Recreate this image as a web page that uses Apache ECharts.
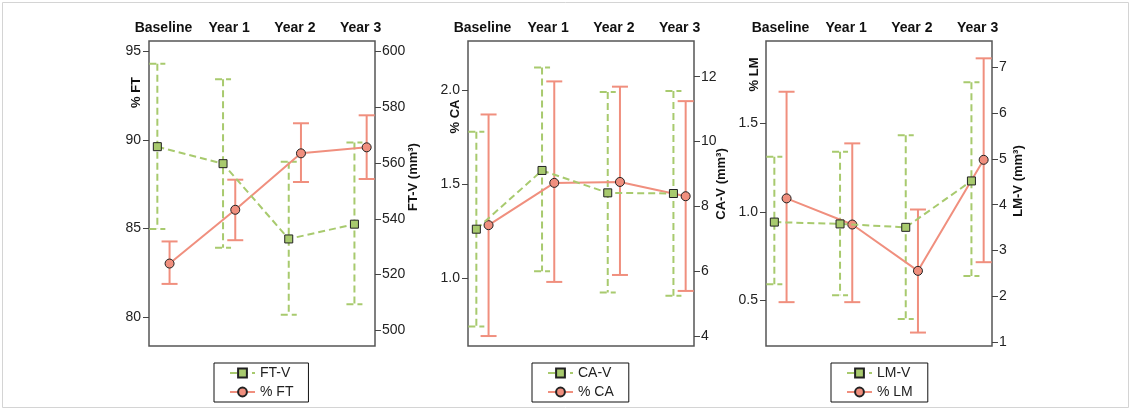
<!DOCTYPE html>
<html>
<head>
<meta charset="utf-8">
<script src="https://cdn.jsdelivr.net/npm/echarts@6/dist/echarts.min.js"></script>
<style>
  html, body { margin: 0; padding: 0; background: #fff; }
  #main { width: 1132px; height: 411px; }
</style>
</head>
<body>
<div id="main"></div>
<script>
var cats = ['Baseline', 'Year 1', 'Year 2', 'Year 3'];

// fat tissue
var ftV = [565.9, 559.8, 532.8, 538.1];
var ftVLow = [536.4, 529.6, 505.6, 509.4];
var ftVHigh = [595.6, 590.1, 560.5, 567.4];
var ftPct = [83.02, 86.06, 89.25, 89.59];
var ftPctLow = [81.87, 84.34, 87.63, 87.8];
var ftPctHigh = [84.27, 87.76, 90.95, 91.4];

// CA
var caV = [7.30, 9.11, 8.42, 8.40];
var caVLow = [4.30, 6.00, 5.35, 5.25];
var caVHigh = [10.30, 12.28, 11.53, 11.56];
var caPct = [1.281, 1.506, 1.511, 1.435];
var caPctLow = [0.691, 0.979, 1.016, 0.931];
var caPctHigh = [1.870, 2.046, 2.018, 1.941];

// LM
var lmV = [3.62, 3.58, 3.505, 4.52];
var lmVLow = [2.26, 2.02, 1.50, 2.44];
var lmVHigh = [5.05, 5.16, 5.52, 6.68];
var lmPct = [1.076, 0.928, 0.666, 1.294];
var lmPctLow = [0.489, 0.489, 0.317, 0.715];
var lmPctHigh = [1.679, 1.387, 1.013, 1.868];

var ftLeftTicks = [80, 85, 90, 95];
var ftRightTicks = [500, 520, 540, 560, 580, 600];
var caLeftTicks = [1.0, 1.5, 2.0];
var caRightTicks = [4, 6, 8, 10, 12];
var lmLeftTicks = [0.5, 1.0, 1.5];
var lmRightTicks = [1, 2, 3, 4, 5, 6, 7];

var GREEN = '#a8ca6e';
var RED = '#f08f7e';
var FONT = 'Liberation Sans, Arial, sans-serif';
var OFF = 0.093;

var panels = [
  { left: 149, vName: 'FT-V', pName: '% FT', v: ftV, vLo: ftVLow, vHi: ftVHigh,
    p: ftPct, pLo: ftPctLow, pHi: ftPctHigh,
    lMin: 78.36, lMax: 95.6, lTicks: ftLeftTicks, dec: 0,
    rMin: 494.4, rMax: 603.8, rTicks: ftRightTicks,
    lTitle: [136, 92.5], rTitle: [413, 177], legendLeft: 214 },
  { left: 468, vName: 'CA-V', pName: '% CA', v: caV, vLo: caVLow, vHi: caVHigh,
    p: caPct, pLo: caPctLow, pHi: caPctHigh,
    lMin: 0.638, lMax: 2.261, lTicks: caLeftTicks, dec: 1,
    rMin: 3.70, rMax: 13.1, rTicks: caRightTicks,
    lTitle: [455, 116.5], rTitle: [721, 184], legendLeft: 532 },
  { left: 766, vName: 'LM-V', pName: '% LM', v: lmV, vLo: lmVLow, vHi: lmVHigh,
    p: lmPct, pLo: lmPctLow, pHi: lmPctHigh,
    lMin: 0.241, lMax: 1.966, lTicks: lmLeftTicks, dec: 1,
    rMin: 0.91, rMax: 7.58, rTicks: lmRightTicks,
    lTitle: [754, 74.5], rTitle: [1018, 181], legendLeft: 831 }
];

function errRender(color, dashed) {
  return function (params, api) {
    var x = api.value(0);
    var lo = api.coord([x, api.value(1)]);
    var hi = api.coord([x, api.value(2)]);
    var w = 8;
    var style = { stroke: color, lineWidth: 2, lineDash: dashed ? [7, 4] : null, fill: null };
    return {
      type: 'group',
      children: [
        { type: 'line', shape: { x1: lo[0], y1: hi[1], x2: lo[0], y2: lo[1] }, style: style },
        { type: 'line', shape: { x1: lo[0] - w, y1: hi[1], x2: lo[0] + w, y2: hi[1] }, style: style },
        { type: 'line', shape: { x1: lo[0] - w, y1: lo[1], x2: lo[0] + w, y2: lo[1] }, style: style }
      ]
    };
  };
}

var grids = [], xAxes = [], yAxes = [], series = [], legends = [], graphics = [];

panels.forEach(function (pn, k) {
  grids.push({
    left: pn.left, top: 41, width: 226, height: 305,
    show: true, borderColor: '#555', borderWidth: 1.5, backgroundColor: 'transparent'
  });
  xAxes.push({
    type: 'value', gridIndex: k, position: 'top', min: -0.22, max: 3.22,
    axisLine: { show: false, onZero: false }, axisTick: { show: false }, splitLine: { show: false },
    axisLabel: {
      customValues: [0, 1, 2, 3], margin: 6,
      formatter: function (v) { return cats[Math.round(v)]; },
      color: '#111', fontWeight: 'bold', fontSize: 14, fontFamily: FONT
    }
  });
  var tickStyle = { show: true, length: 6, lineStyle: { color: '#444', width: 1 } };
  yAxes.push({
    type: 'value', gridIndex: k, position: 'left', min: pn.lMin, max: pn.lMax,
    axisLine: { show: false, onZero: false }, splitLine: { show: false },
    axisTick: Object.assign({ customValues: pn.lTicks }, tickStyle),
    axisLabel: {
      customValues: pn.lTicks, margin: 8, color: '#222', fontSize: 14, fontFamily: FONT,
      formatter: (function (d) { return function (v) { return v.toFixed(d); }; })(pn.dec)
    }
  });
  yAxes.push({
    type: 'value', gridIndex: k, position: 'right', min: pn.rMin, max: pn.rMax,
    axisLine: { show: false, onZero: false }, splitLine: { show: false },
    axisTick: Object.assign({ customValues: pn.rTicks }, tickStyle),
    axisLabel: {
      customValues: pn.rTicks, margin: 7, color: '#222', fontSize: 14, fontFamily: FONT,
      formatter: function (v) { return String(Math.round(v)); }
    }
  });

  var lIdx = k * 2, rIdx = k * 2 + 1;
  var vErr = pn.v.map(function (_, i) { return [i - OFF, pn.vLo[i], pn.vHi[i]]; });
  var pErr = pn.p.map(function (_, i) { return [i + OFF, pn.pLo[i], pn.pHi[i]]; });

  series.push({
    type: 'custom', name: pn.vName + ' sd', xAxisIndex: k, yAxisIndex: rIdx, z: 1,
    renderItem: errRender(GREEN, true), encode: { x: 0, y: [1, 2] }, data: vErr
  });
  series.push({
    type: 'custom', name: pn.pName + ' sd', xAxisIndex: k, yAxisIndex: lIdx, z: 1,
    renderItem: errRender(RED, false), encode: { x: 0, y: [1, 2] }, data: pErr
  });
  series.push({
    type: 'line', name: pn.pName, xAxisIndex: k, yAxisIndex: lIdx, z: 3,
    data: pn.p.map(function (v, i) { return [i + OFF, v]; }),
    symbol: 'circle', symbolSize: 9,
    lineStyle: { color: RED, width: 2 },
    itemStyle: { color: RED, borderColor: '#222', borderWidth: 1 },
    emphasis: { disabled: true }, animation: false
  });
  series.push({
    type: 'line', name: pn.vName, xAxisIndex: k, yAxisIndex: rIdx, z: 4,
    data: pn.v.map(function (v, i) { return [i - OFF, v]; }),
    symbol: 'rect', symbolSize: 8,
    lineStyle: { color: GREEN, width: 2, type: [7, 4] },
    itemStyle: { color: GREEN, borderColor: '#222', borderWidth: 1 },
    emphasis: { disabled: true }, animation: false
  });

  legends.push({
    data: [pn.vName, pn.pName], orient: 'vertical', left: pn.legendLeft, top: 363,
    itemWidth: 25, itemHeight: 11, itemGap: 5,
    padding: [3, 15, 3, 15], borderColor: '#111', borderWidth: 1, borderRadius: 0,
    textStyle: { color: '#222', fontSize: 14, fontFamily: FONT },
    selectedMode: false
  });

  [[pn.pName, pn.lTitle], [pn.vName + ' (mm³)', pn.rTitle]].forEach(function (t) {
    graphics.push({
      type: 'text', x: t[1][0], y: t[1][1], rotation: Math.PI / 2,
      style: {
        text: t[0], fill: '#111', fontWeight: 'bold', fontSize: 13, fontFamily: FONT,
        textAlign: 'center', textVerticalAlign: 'middle'
      }
    });
  });
});

graphics.push({
  type: 'rect', shape: { x: 2.5, y: 2.5, width: 1126, height: 405 },
  style: { fill: null, stroke: '#d4d4d4', lineWidth: 1 }, z: -10
});

var myChart = echarts.init(document.getElementById('main'));
myChart.setOption({
  backgroundColor: '#fff',
  animation: false,
  grid: grids,
  xAxis: xAxes,
  yAxis: yAxes,
  legend: legends,
  graphic: graphics,
  series: series
});
window.addEventListener('resize', function () { myChart.resize(); });
</script>
</body>
</html>
